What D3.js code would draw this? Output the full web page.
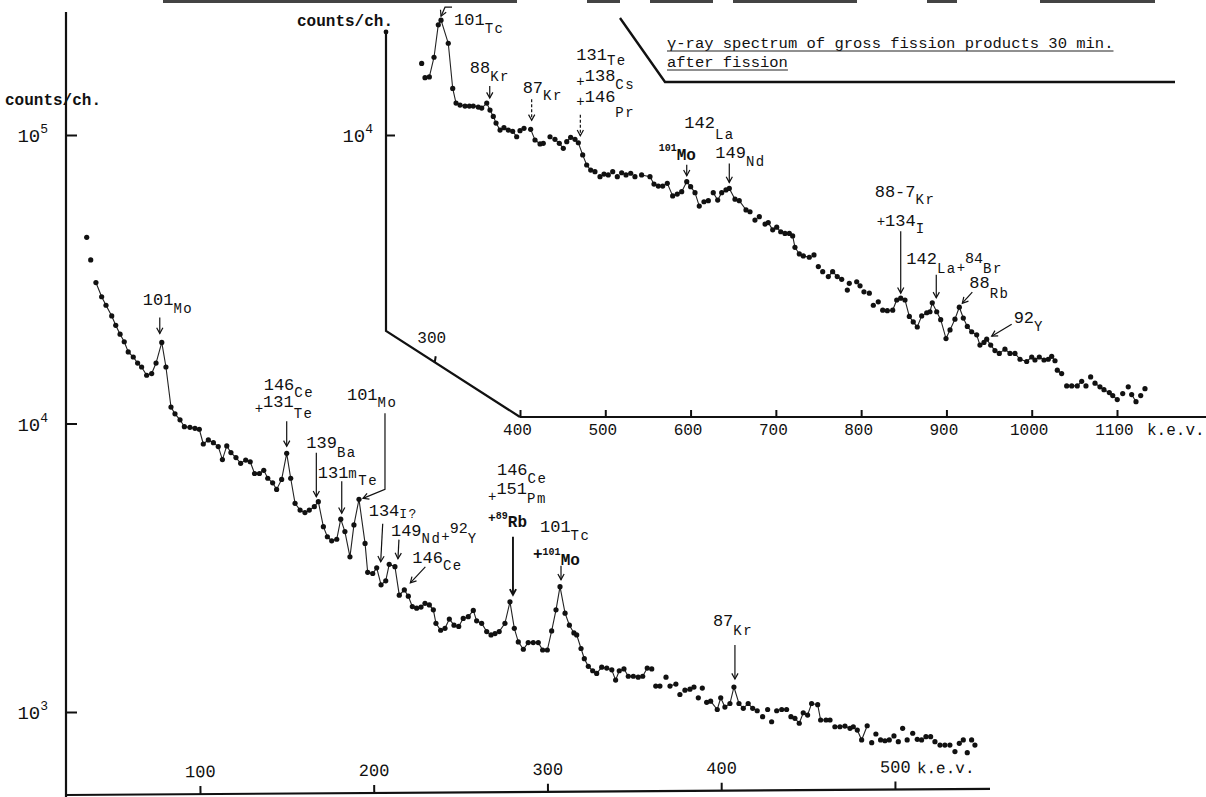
<!DOCTYPE html>
<html>
<head>
<meta charset="utf-8">
<script src="https://cdn.jsdelivr.net/npm/d3@7"></script>
<style>
  html, body { margin: 0; padding: 0; background: #fff; }
  svg { display: block; color: #111; }
  text { font-family: "Liberation Mono", "DejaVu Sans Mono", monospace; fill: #111; }
</style>
</head>
<body>
<svg id="chart" width="1206" height="797"></svg>
<script>
// ---- Main spectrum (0-550 keV): energy (keV) and counts per channel ----
const mainEnergy = [34.8,37.1,40.1,43.4,45.9,49.2,51.5,54.0,56.4,58.7,61.6,64.1,66.4,69.3,72.2,74.7,78.0,80.4,83.3,85.6,
  88.5,91.0,94.2,97.1,99.6,101.9,104.8,107.7,110.5,112.9,115.4,117.8,120.7,123.4,126.3,128.9,131.4,134.2,136.7,139.0,
  141.8,144.1,147.0,149.9,152.2,154.7,157.6,160.4,162.9,165.8,168.1,171.0,173.3,175.8,178.7,181.0,183.4,186.3,188.6,191.5,
  195.0,196.5,199.4,201.7,204.2,206.9,208.9,212.2,214.7,217.6,219.9,222.2,224.7,227.2,229.5,232.0,234.3,235.8,238.5,241.0,
  243.5,246.2,248.9,251.5,254.4,257.3,259.2,262.1,265.0,267.5,269.8,272.2,275.5,278.4,280.9,283.2,286.1,288.9,291.8,294.7,
  297.2,299.9,302.4,304.9,307.2,310.1,312.6,315.2,316.8,319.3,321.2,323.5,326.0,328.3,331.2,334.1,337.0,339.2,341.3,344.0,
  346.5,349.4,352.2,354.8,357.4,360.0,362.3,364.7,368.2,370.5,373.9,376.2,379.1,382.0,384.3,386.8,389.1,391.6,393.9,397.7,
  399.7,402.1,405.0,407.3,410.2,412.7,415.5,418.1,420.7,423.8,426.7,429.0,431.9,434.8,437.6,440.1,442.4,444.9,447.2,449.7,
  452.0,455.5,457.2,460.3,462.6,465.4,468.3,471.2,474.1,476.0,478.3,480.8,484.0,486.6,489.0,491.7,494.2,496.7,499.4,501.9,
  504.4,507.0,510.2,512.8,515.3,517.8,520.5,523.0,525.9,528.7,531.6,534.5,537.0,539.3,541.6,544.1,546.0];
const mainCounts = [44200,36900,30800,27500,25700,23600,21900,20400,19200,17700,17000,16200,15700,14700,14900,16200,19100,15700,11400,10800,
  10300,9750,9700,9620,9550,8490,8770,8580,8320,7500,8360,7930,7620,7280,7470,7370,6710,6710,6880,6460,
  6230,5910,6400,7880,6460,5290,5010,4910,5010,5150,5360,4390,4050,3920,3970,4660,4220,3450,4450,5460,
  3840,3050,3020,3160,2760,2850,3250,3190,2540,2650,2520,2320,2290,2310,2380,2350,2260,2030,1920,1950,
  2100,2000,1980,2110,2140,2250,2070,2030,1900,1850,1870,1900,2030,2410,1950,1750,1650,1740,1740,1740,
  1640,1640,1910,2260,2720,2200,2000,1880,1850,1660,1530,1440,1390,1360,1430,1420,1400,1290,1390,1410,
  1330,1330,1320,1330,1420,1410,1230,1230,1320,1230,1250,1150,1190,1200,1220,1120,1210,1080,1090,1020,
  1120,1040,1070,1220,1070,1030,1070,1030,1010,963,1020,925,1010,1020,1020,963,951,914,994,976,
  1070,1060,938,938,938,889,889,894,878,889,866,800,896,783,839,800,795,800,826,789,
  878,800,844,804,800,821,821,789,768,768,768,729,779,800,723,800,768];
// energy spans (keV) joined by a line; other channels are plotted as dots only
const mainRuns = [[40,360],[362.3,364.7],[370.5,373.9],[379.1,384.3],[391.6,420.7],[440.1,462.6],[465.4,476.0],[478.3,484.0]];

// ---- Inset spectrum (280-1140 keV) ----
const insetEnergy = [284.7,288.6,293.7,299.2,304.2,307.4,315.9,321.1,325.0,329.7,335.5,340.6,345.2,351.1,355.1,361.0,364.8,368.7,371.9,376.6,
  381.2,386.3,391.4,396.1,400.0,404.7,412.5,417.6,423.5,427.3,435.2,441.0,446.1,450.8,454.8,459.4,464.5,468.4,473.5,478.2,
  482.9,487.9,493.8,498.5,503.5,508.7,514.1,519.2,524.3,529.8,534.8,542.6,552.4,557.1,562.2,567.3,572.7,579.0,584.4,589.6,
  595.5,600.1,605.2,610.2,615.7,620.8,626.6,631.8,636.5,641.5,645.4,652.1,657.1,665.0,669.7,675.5,680.6,687.3,691.1,696.3,
  701.0,705.7,710.7,715.8,719.7,722.4,727.5,732.2,739.2,744.7,749.8,754.9,761.5,766.6,772.0,777.2,783.8,786.1,794.8,798.7,
  803.3,809.6,814.3,820.1,825.3,830.7,837.0,841.7,846.4,851.4,856.5,861.1,865.8,871.0,876.9,880.7,883.4,888.6,893.3,899.5,
  904.2,910.0,915.1,919.8,924.5,929.6,935.5,939.3,944.0,947.2,951.9,956.9,962.0,968.6,974.5,980.4,986.3,994.1,1000.0,1003.8,
  1008.9,1014.4,1019.4,1023.4,1027.3,1030.0,1035.1,1041.0,1046.9,1053.4,1058.6,1063.6,1069.1,1074.2,1080.0,1084.7,1091.0,1095.0,1100.3,1106.7,
  1113.2,1117.2,1122.3,1127.8,1132.8];
const insetCounts = [17700,15800,15900,18600,24100,25000,20800,14500,12900,12700,12600,12600,12600,12500,12400,12900,12200,11600,11000,10400,
  10600,10400,10300,9860,10350,10550,10460,9610,9310,9360,9860,9660,9360,8990,9480,9820,9660,9400,8530,7870,
  7560,7460,7170,7320,7270,7460,7170,7400,7270,7370,7170,7270,7170,6760,6650,6650,6800,6150,6240,6360,
  6890,6620,6310,5670,5870,5920,6310,5950,6310,6450,6530,5990,5920,5500,5420,5070,5210,4910,4970,4690,
  4790,4620,4560,4560,4470,4080,3870,3810,3770,3840,3500,3360,3230,3360,3230,3160,2900,3060,3100,3000,
  2860,2830,2570,2640,2470,2460,2470,2680,2720,2680,2350,2250,2160,2360,2420,2440,2620,2440,2290,1970,
  2110,2300,2530,2320,2170,2080,2030,1870,1910,1960,1870,1790,1750,1810,1750,1750,1670,1640,1700,1660,
  1700,1660,1670,1710,1650,1530,1490,1350,1350,1350,1400,1350,1450,1380,1340,1310,1280,1250,1210,1270,
  1340,1260,1190,1250,1320];
const insetRuns = [[288.6,396.1],[400.0,404.7],[412.5,427.3],[441.0,450.8],[454.8,482.9],[542.6,610.2],[626.6,669.7],
  [691.1,739.2],[761.5,777.2],[825.3,1027.3],[1030.0,1035.1],[1041.0,1058.6],[1074.2,1100.3],[1117.2,1122.3]];

// ---- Axis ticks ----
const mainXTicks = [100, 200, 300, 400, 500];
const mainYTicks = [1e3, 1e4, 1e5];
const insetXTicks = [400, 500, 600, 700, 800, 900, 1000, 1100];
const insetBentTicks = [300];
const insetYTicks = [1e4];

// ---- Peak identifications: [text, font size, baseline shift, bold] ----
const mainNotes = [
  { e: 78.0,  c: 19100, arrow: [[-2,-25],[-2,-9]], lines: [{ at: [-19,-37], parts: [["101",17,0],["Mo",14,8]] }] },
  { e: 149.9, c: 7880,  arrow: [[0,-32],[0,-7]], lines: [
      { at: [-23,-63], parts: [["146",17,0],["Ce",14,7]] },
      { at: [-32,-40], parts: [["+",14,0],["131",17,-6],["Te",14,5]] } ] },
  { e: 168.1, c: 5360,  arrow: [[-2,-49],[-2,-5]], lines: [{ at: [-12,-54], parts: [["139",17,0],["Ba",14,9]] }] },
  { e: 181.0, c: 4660,  arrow: [[1,-38],[1,-6]], lines: [{ at: [-23,-41], parts: [["131",17,0],["m",14,0],["Te",14,7]] }] },
  { e: 191.5, c: 5460,  arrow: [[26,-86],[26,-10],[4,-1]], lines: [{ at: [-12,-99], parts: [["101",17,0],["Mo",14,7]] }] },
  { e: 201.7, c: 3160,  arrow: [[6,-44],[4,-6]], lines: [{ at: [-8,-52], parts: [["134",17,0],["I?",13,2]] }] },
  { e: 212.2, c: 3190,  arrow: [[4,-27],[3,-8]], lines: [{ at: [-4,-31], parts: [["149",17,0],["Nd",14,7],["+",14,5],["92",15,-3],["Y",14,7]] }] },
  { e: 217.6, c: 2650,  arrow: [[21,-23],[6,-7]], lines: [{ at: [8,-27], parts: [["146",17,0],["Ce",14,7]] }] },
  { e: 278.4, c: 2410,  arrow: [[3,-65],[3,-7]], width: 1.9, lines: [
      { at: [-13,-127], parts: [["146",17,0],["Ce",14,8]] },
      { at: [-22,-101], parts: [["+",14,0],["151",17,-7],["Pm",14,2]] },
      { at: [-22,-75],  parts: [["+",13,-5,true],["89",10,-8,true],["Rb",16,0,true]] } ] },
  { e: 307.2, c: 2720,  arrow: [[1,-21],[1,-7]], lines: [
      { at: [-20,-55], parts: [["101",17,0],["Tc",14,8]] },
      { at: [-27,-28], parts: [["+",16,0,true],["101",10,-4,true],["Mo",16,6,true]] } ] },
  { e: 407.3, c: 1220,  arrow: [[1,-42],[1,-8]], lines: [{ at: [-21,-61], parts: [["87",17,0],["Kr",14,9]] }] }
];
const insetNotes = [
  { e: 307.4, c: 25000, arrow: [[11,-13],[4,-13],[0,-4]], lines: [{ at: [13,5], parts: [["101",17,0],["Tc",14,8]] }] },
  { e: 361.0, c: 12900, arrow: [[3,-17],[3,-5]], lines: [{ at: [-17,-30], parts: [["88",17,0],["Kr",14,8]] }] },
  { e: 412.5, c: 10460, arrow: [[1,-30],[1,-9]], dashed: true, lines: [{ at: [-8,-36], parts: [["87",17,0],["Kr",14,7]] }] },
  { e: 468.4, c: 9400,  arrow: [[2,-28],[2,-7]], dashed: true, lines: [
      { at: [-2,-83], parts: [["131",17,0],["Te",14,5]] },
      { at: [-2,-57], parts: [["+",14,0],["138",17,-5],["Cs",14,3]] },
      { at: [-2,-37], parts: [["+",14,0],["146",17,-4],["Pr",14,11]] } ] },
  { e: 595.5, c: 6890,  arrow: [[0,-17],[0,-6]], lines: [{ at: [-28,-22], parts: [["101",10,-9,true],["Mo",16,0,true]] }] },
  { e: 645.4, c: 6530,  arrow: [[0,-25],[0,-6]], lines: [
      { at: [-45,-60], parts: [["142",17,0],["La",14,11]] },
      { at: [-14,-30], parts: [["149",17,0],["Nd",14,8]] } ] },
  { e: 846.4, c: 2720,  arrow: [[0,-67],[0,-5]], lines: [
      { at: [-26,-101], parts: [["88-7",17,0],["Kr",14,7]] },
      { at: [-24,-72],  parts: [["+",14,0],["134",17,0],["I",14,7]] } ] },
  { e: 883.4, c: 2620,  arrow: [[4,-28],[4,-5]], lines: [{ at: [-26,-39], parts: [["142",17,0],["La",14,9],["+",14,8],["84",15,-1],["Br",14,9]] }] },
  { e: 915.1, c: 2530,  arrow: [[13,-15],[3,-4]], lines: [{ at: [10,-19], parts: [["88",17,0],["Rb",14,10]] }] },
  { e: 947.2, c: 1960,  arrow: [[25,-15],[5,-3]], lines: [{ at: [27,-16], parts: [["92",17,0],["Y",14,8]] }] }
];

const titleLines = ["\u03b3-ray spectrum of gross fission products 30 min.", "after fission"];

// ---- Layout ----
const W = 1206, H = 797;
const mainAxisX = 66, mainBaseY = 795, mainTilt = -0.38;
const insetAxisX = 386, insetTop = 32, insetBendY = 331, insetBaseY = 417;

const xMain = d3.scaleLinear().domain([100, 500]).range([200, 895]);
const yMain = d3.scaleLog().domain([1e3, 1e5]).range([712, 135]);
const xInset = d3.scaleLinear().domain([400, 1100]).range([520, 1117]);
const yInset = d3.scaleLog().domain([1e3, 1e4]).range([423.5, 135]);

const svg = d3.select("#chart");
svg.append("rect").attr("width", W).attr("height", H).attr("fill", "#fff");

// faded frame line along the top edge
const topEdge = [[163,517],[587,620],[650,713],[733,857],[927,957],[1040,1155]];
svg.append("g").selectAll("line").data(topEdge).join("line")
  .attr("x1", d => d[0]).attr("x2", d => d[1]).attr("y1", 1.5).attr("y2", 1.5)
  .attr("stroke", "#444").attr("stroke-width", 3);

// ---- Main axes ----
svg.append("line").attr("x1", mainAxisX).attr("x2", mainAxisX).attr("y1", 12).attr("y2", H)
  .attr("stroke", "#111").attr("stroke-width", 2.2);

function powerLabels(sel) {
  sel.selectAll(".tick text").attr("font-size", 19).attr("dy", "0.35em").each(function (d) {
    const t = d3.select(this);
    t.append("tspan").text("10");
    t.append("tspan").attr("font-size", 13).attr("dy", -9).text(Math.round(Math.log10(d)));
  });
}

const gy = svg.append("g").attr("transform", `translate(${mainAxisX},0)`)
  .call(d3.axisLeft(yMain).tickValues(mainYTicks).tickSizeInner(-11).tickSizeOuter(0).tickPadding(18).tickFormat(() => ""));
gy.select(".domain").remove();
gy.attr("font-family", null).attr("font-size", null);
gy.selectAll(".tick line").attr("stroke", "#111").attr("stroke-width", 2);
powerLabels(gy);

svg.append("text").attr("x", 5).attr("y", 105).attr("font-size", 16).attr("font-weight", "bold").text("counts/ch.");

const gx = svg.append("g").attr("transform", `translate(0,${mainBaseY}) rotate(${mainTilt},${mainAxisX},0)`)
  .call(d3.axisTop(xMain).tickValues(mainXTicks).tickSizeInner(8).tickSizeOuter(0).tickPadding(9).tickFormat(d3.format("d")));
gx.select(".domain").remove();
gx.attr("font-family", null).attr("font-size", null);
gx.selectAll(".tick line").attr("stroke", "#111").attr("stroke-width", 2);
gx.selectAll(".tick text").attr("font-size", 17);
gx.append("line").attr("x1", mainAxisX).attr("x2", 990).attr("y1", 0).attr("y2", 0)
  .attr("stroke", "#111").attr("stroke-width", 2.2);
gx.append("text").attr("x", 917).attr("y", -16).attr("text-anchor", "start").attr("font-size", 16).text("k.e.v.");

// ---- Inset axes (bent energy axis) ----
const corner = [xInset(400), insetBaseY];
svg.append("path")
  .attr("d", d3.line()([[insetAxisX, insetTop], [insetAxisX, insetBendY], corner]))
  .attr("fill", "none").attr("stroke", "#111").attr("stroke-width", 2.2);
svg.append("circle").attr("cx", insetAxisX).attr("cy", insetTop).attr("r", 2.4).attr("fill", "#111");

const giy = svg.append("g").attr("transform", `translate(${insetAxisX},0)`)
  .call(d3.axisLeft(yInset).tickValues(insetYTicks).tickSizeInner(-9).tickSizeOuter(0).tickPadding(13).tickFormat(() => ""));
giy.select(".domain").remove();
giy.attr("font-family", null).attr("font-size", null);
giy.selectAll(".tick line").attr("stroke", "#111").attr("stroke-width", 2);
powerLabels(giy);
svg.append("text").attr("x", 297).attr("y", 26).attr("font-size", 16).attr("font-weight", "bold").text("counts/ch.");

const gix = svg.append("g").attr("transform", `translate(0,${insetBaseY})`)
  .call(d3.axisBottom(xInset).tickValues(insetXTicks).tickSizeInner(-7).tickSizeOuter(0).tickPadding(7).tickFormat(d3.format("d")));
gix.select(".domain").remove();
gix.attr("font-family", null).attr("font-size", null);
gix.selectAll(".tick line").attr("stroke", "#111").attr("stroke-width", 2);
gix.selectAll(".tick text").attr("font-size", 16).attr("dx", -3);
gix.append("line").attr("x1", corner[0]).attr("x2", W).attr("y1", 0).attr("y2", 0)
  .attr("stroke", "#111").attr("stroke-width", 2.2);
gix.append("text").attr("x", 1147).attr("y", 18).attr("text-anchor", "start").attr("font-size", 16).text("k.e.v.");

// ticks on the slanted part of the inset axis
const slant = t => {
  const x = xInset(t);
  const f = (x - insetAxisX) / (corner[0] - insetAxisX);
  return [x, insetBendY + f * (insetBaseY - insetBendY)];
};
const gBent = svg.append("g");
insetBentTicks.forEach(t => {
  const [x, y] = slant(t);
  gBent.append("line").attr("x1", x).attr("x2", x + 1).attr("y1", y).attr("y2", y - 6)
    .attr("stroke", "#111").attr("stroke-width", 2);
  gBent.append("text").attr("x", x - 3).attr("y", y - 19).attr("text-anchor", "middle")
    .attr("font-size", 16).text(t);
});

// ---- Title panel ----
const gTitle = svg.append("g");
gTitle.append("path").attr("d", d3.line()([[620, 18], [665, 82], [1175, 82]]))
  .attr("fill", "none").attr("stroke", "#111").attr("stroke-width", 2.4);
titleLines.forEach((s, i) => {
  const y = 48 + i * 19;
  const t = gTitle.append("text").attr("x", 667).attr("y", y).attr("font-size", 15.5).text(s);
  const w = t.node().getComputedTextLength();
  gTitle.append("line").attr("x1", 667).attr("x2", 667 + w).attr("y1", y + 3).attr("y2", y + 3)
    .attr("stroke", "#222").attr("stroke-width", 1.2);
});

// ---- Spectra ----
function drawSpectrum(E, C, runs, x, y) {
  const g = svg.append("g");
  const pts = E.map((e, i) => ({ e, c: C[i] }));
  const line = d3.line().x(d => x(d.e)).y(d => y(d.c));
  runs.forEach(([a, b]) => {
    const seg = pts.filter(p => p.e >= a - 0.01 && p.e <= b + 0.01);
    if (seg.length > 1) g.append("path").attr("d", line(seg))
      .attr("fill", "none").attr("stroke", "#222").attr("stroke-width", 1.1);
  });
  g.selectAll("circle").data(pts).join("circle")
    .attr("cx", d => x(d.e)).attr("cy", d => y(d.c)).attr("r", 2.6).attr("fill", "#111");
}
drawSpectrum(mainEnergy, mainCounts, mainRuns, xMain, yMain);
drawSpectrum(insetEnergy, insetCounts, insetRuns, xInset, yInset);

// ---- Peak labels with arrows ----
function drawNotes(notes, x, y) {
  const g = svg.append("g");
  notes.forEach(n => {
    const px = x(n.e), py = y(n.c);
    const pts = n.arrow.map(([dx, dy]) => [px + dx, py + dy]);
    const w = n.width || 1.2;
    g.append("path").attr("d", d3.line()(pts)).attr("fill", "none")
      .attr("stroke", "#111").attr("stroke-width", w)
      .attr("stroke-dasharray", n.dashed ? "3,2" : null);
    const [x1, y1] = pts[pts.length - 2], [x2, y2] = pts[pts.length - 1];
    const a = Math.atan2(y2 - y1, x2 - x1), L = 6.5, s = 0.5;
    g.append("path")
      .attr("d", d3.line()([[x2 - L * Math.cos(a - s), y2 - L * Math.sin(a - s)], [x2, y2],
                            [x2 - L * Math.cos(a + s), y2 - L * Math.sin(a + s)]]))
      .attr("fill", "none").attr("stroke", "#111").attr("stroke-width", w);
    n.lines.forEach(ln => {
      const t = g.append("text").attr("x", px + ln.at[0]).attr("y", py + ln.at[1]);
      let prev = 0;
      ln.parts.forEach(([str, size, b, bold]) => {
        // element symbols are lettered wide; mass numbers are not
        const wide = !bold && /[A-Za-z]/.test(str);
        t.append("tspan").attr("font-size", size).attr("dy", b - prev)
          .attr("font-weight", bold ? "bold" : null)
          .attr("letter-spacing", wide ? 1.5 : null)
          .text(str);
        prev = b;
      });
    });
  });
}
drawNotes(mainNotes, xMain, yMain);
drawNotes(insetNotes, xInset, yInset);
</script>
</body>
</html>
